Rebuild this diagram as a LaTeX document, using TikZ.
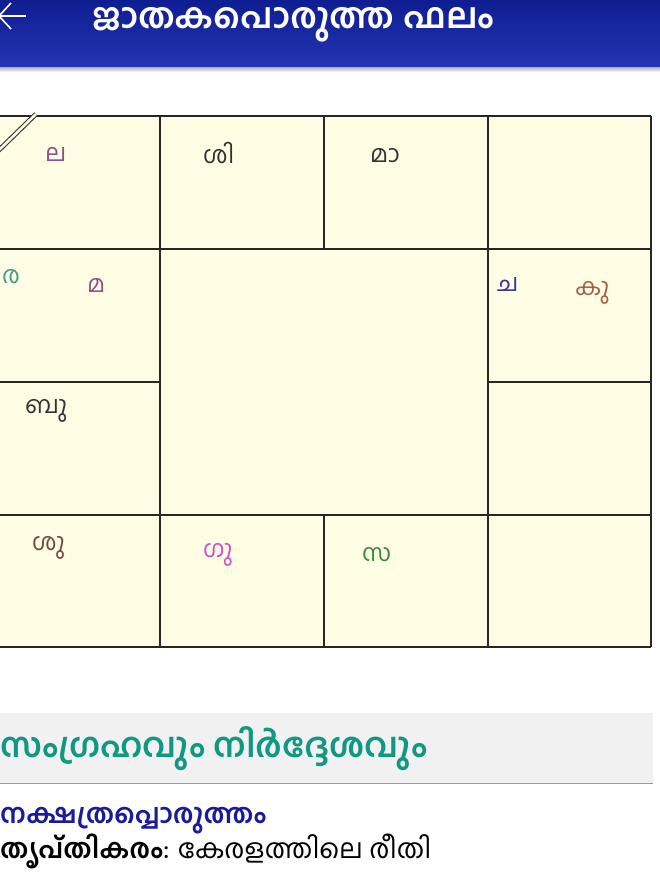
\documentclass[tikz,border=0pt]{standalone}
\usepackage{fontspec}
\newfontfamily\mlfont[Script=Malayalam]{Hind Kochi}
\usetikzlibrary{positioning}

\definecolor{barTop}{HTML}{0E1D90}
\definecolor{barBot}{HTML}{2535B5}
\definecolor{chartBg}{HTML}{FFFEE4}
\definecolor{bandBg}{HTML}{F1F1F1}
\definecolor{headTeal}{HTML}{0F9883}
\definecolor{headBlue}{HTML}{1A1A9C}
\definecolor{gPurple}{HTML}{8C4F8C}
\definecolor{gTeal}{HTML}{4A9A8C}
\definecolor{gBlue}{HTML}{3535A0}
\definecolor{gRust}{HTML}{A2604C}
\definecolor{gBrown}{HTML}{7A4838}
\definecolor{gPink}{HTML}{CC50CC}
\definecolor{gGreen}{HTML}{3A8A3A}
\definecolor{gDark}{HTML}{333333}

\tikzset{
  graha/.style={font=\mlfont\fontsize{24}{24}\selectfont, inner sep=0pt, anchor=base west},
  grid/.style={line width=1.3pt, black!85},
}

\begin{document}
\begin{tikzpicture}[x=1pt,y=-1pt]
\useasboundingbox (0,0) rectangle (660,880);
\clip (0,0) rectangle (660,880);
\fill[white] (0,0) rectangle (660,880);

% app bar
\shade[top color=barTop, bottom color=barBot] (0,0) rectangle (660,68);
\shade[top color=black!25, bottom color=white] (0,68) rectangle (660,72);
\draw[white, line width=1.6pt] (-1,16) -- (26,16);
\draw[white, line width=1.6pt] (11,3) -- (-1,16) -- (11,29);
\node[anchor=base west, text=white, inner sep=0pt,
  font=\mlfont\bfseries\fontsize{35}{35}\selectfont] (title) at (92,29) {ജാതകപൊരുത്ത ഫലം};

% chart
\fill[chartBg] (-4,116) rectangle (651,647);
\foreach \y in {116,249,515,647}
  \draw[grid] (-4,\y) -- (651,\y);
\draw[grid] (-4,382) -- (160,382);
\draw[grid] (488,382) -- (651,382);
\foreach \x in {160,488,651}
  \draw[grid] (\x,116) -- (\x,647);
\foreach \x in {324}
  {\draw[grid] (\x,116) -- (\x,249);
  \draw[grid] (\x,515) -- (\x,647);}
\draw[double=chartBg, double distance=2.6pt, line width=1.1pt, black!80] (-3,152) -- (36,114);

% grahas
\node[graha, text=gPurple] (lagnam) at (45,161) {ല};
\node[graha, text=gDark] (shikhi) at (203,163) {ശി};
\node[graha, text=gDark] (mandi) at (370,162) {മാ};
\node[graha, text=gTeal] (ravi) at (2,283) {ര};
\node[graha, text=gPurple] (mandan) at (87,292) {മ};
\node[graha, text=gBlue] (chandran) at (497,291) {ച};
\node[graha, text=gRust] (kujan) at (575,295) {കു};
\node[graha, text=gDark] (budhan) at (25,413) {ബു};
\node[graha, text=gBrown] (shukran) at (32,550) {ശു};
\node[graha, text=gPink] (guru) at (203,557) {ഗു};
\node[graha, text=gGreen] (sarppan) at (362,561) {സ};

% summary section
\fill[bandBg] (0,713) rectangle (653,783);
\draw[black!40, line width=1pt] (0,783) -- (653,783);
\node[anchor=base west, text=headTeal, inner sep=0pt,
  font=\mlfont\bfseries\fontsize{34}{34}\selectfont] (summary) at (0,757) {സംഗ്രഹവും നിർദ്ദേശവും};
\node[anchor=base west, text=headBlue, inner sep=0pt,
  font=\mlfont\bfseries\fontsize{27}{27}\selectfont] (nakshatra) at (0,823) {നക്ഷത്രപ്പൊരുത്തം};
\node[anchor=base west, text=black, inner sep=0pt,
  font=\mlfont\fontsize{27}{27}\selectfont] (result) at (0,858) {\textbf{തൃപ്തികരം}: കേരളത്തിലെ രീതി};
\end{tikzpicture}
\end{document}
